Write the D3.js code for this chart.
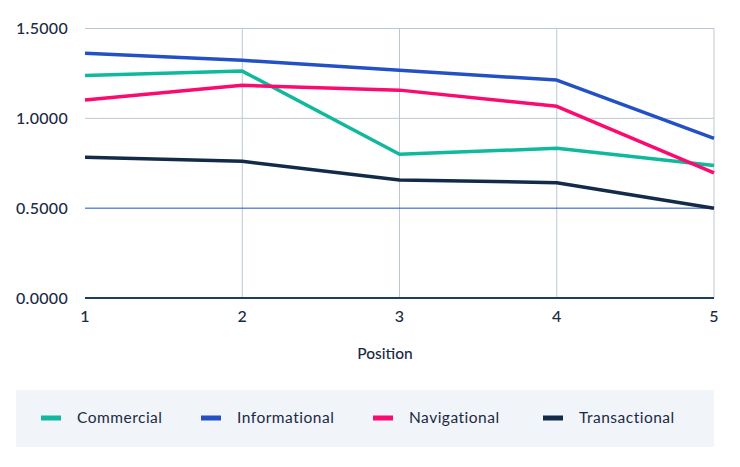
<!DOCTYPE html>
<html><head><meta charset="utf-8">
<script src="https://cdn.jsdelivr.net/npm/d3@7"></script>
<style>
html,body{margin:0;padding:0;background:#fff;}
svg text{font-family:"Lato","Inter",sans-serif;fill:#1b2a44;}
</style></head>
<body><svg id="c" width="740" height="467"></svg>
<script>
const positions = [1, 2, 3, 4, 5];
const seriesNames = ["Commercial", "Informational", "Navigational", "Transactional"];
const commercial    = [1.239, 1.263, 0.800, 0.833, 0.738];
const informational = [1.362, 1.323, 1.267, 1.213, 0.889];
const navigational  = [1.102, 1.184, 1.157, 1.067, 0.697];
const transactional = [0.783, 0.761, 0.657, 0.642, 0.499];
const yTicks = [0, 0.5, 1.0, 1.5];
const colors = ["#10b99d", "#2251c6", "#fb0a6f", "#132b48"];
const seriesValues = [commercial, informational, navigational, transactional];

const svg = d3.select("#c");
const x = d3.scaleLinear().domain([1, 5]).range([85, 714]);
const y = d3.scaleLinear().domain([0, 1.5]).range([298, 28.5]);

// vertical grid
svg.append("g").selectAll("line").data(positions.slice(1)).join("line")
  .attr("x1", d => x(d)).attr("x2", d => x(d))
  .attr("y1", y(1.5)).attr("y2", y(0))
  .attr("stroke", "#bcc7d3").attr("stroke-width", 1);
// horizontal grid
svg.append("g").selectAll("line").data(yTicks).join("line")
  .attr("x1", x(1)).attr("x2", x(5))
  .attr("y1", d => y(d)).attr("y2", d => y(d))
  .attr("stroke", d => d === 0 ? "#1f3d63" : d === 0.5 ? "#1a4fd0" : "#bcc7d3")
  .attr("stroke-width", d => d === 0 ? 2 : 1);

// y labels
svg.append("g").selectAll("text").data(yTicks).join("text")
  .attr("x", 16).attr("y", d => y(d)).attr("dy", "0.35em")
  .attr("font-size", 16).attr("font-weight", 500).attr("letter-spacing", 0.3)
  .text(d => d3.format(".4f")(d));
// x labels
svg.append("g").selectAll("text").data(positions).join("text")
  .attr("x", d => x(d)).attr("y", 322)
  .attr("text-anchor", "middle")
  .attr("font-size", 16).attr("font-weight", 500)
  .text(d => d);
svg.append("text").attr("x", 385).attr("y", 359).attr("text-anchor", "middle")
  .attr("font-size", 15.5).attr("font-weight", 500).text("Position");

// lines
const line = d3.line().x((d, i) => x(positions[i])).y(d => y(d));
svg.append("g").selectAll("path").data(seriesValues).join("path")
  .attr("d", d => line(d)).attr("fill", "none")
  .attr("stroke", (d, i) => colors[i]).attr("stroke-width", 3.5)
  .attr("stroke-linejoin", "round");

// legend
svg.append("rect").attr("x", 16).attr("y", 390).attr("width", 698).attr("height", 57)
  .attr("fill", "#f1f4f8");
const lx = [41, 201, 373, 543];
const lg = svg.append("g").selectAll("g").data(seriesNames).join("g")
  .attr("transform", (d, i) => `translate(${lx[i]},418)`);
lg.append("rect").attr("x", 0).attr("y", -2.5).attr("width", 20).attr("height", 5)
  .attr("fill", (d, i) => colors[i]);
lg.append("text").attr("x", 36).attr("y", 0).attr("dy", "0.35em")
  .attr("font-size", 15.5).attr("letter-spacing", 0.5).text(d => d);
</script></body></html>
